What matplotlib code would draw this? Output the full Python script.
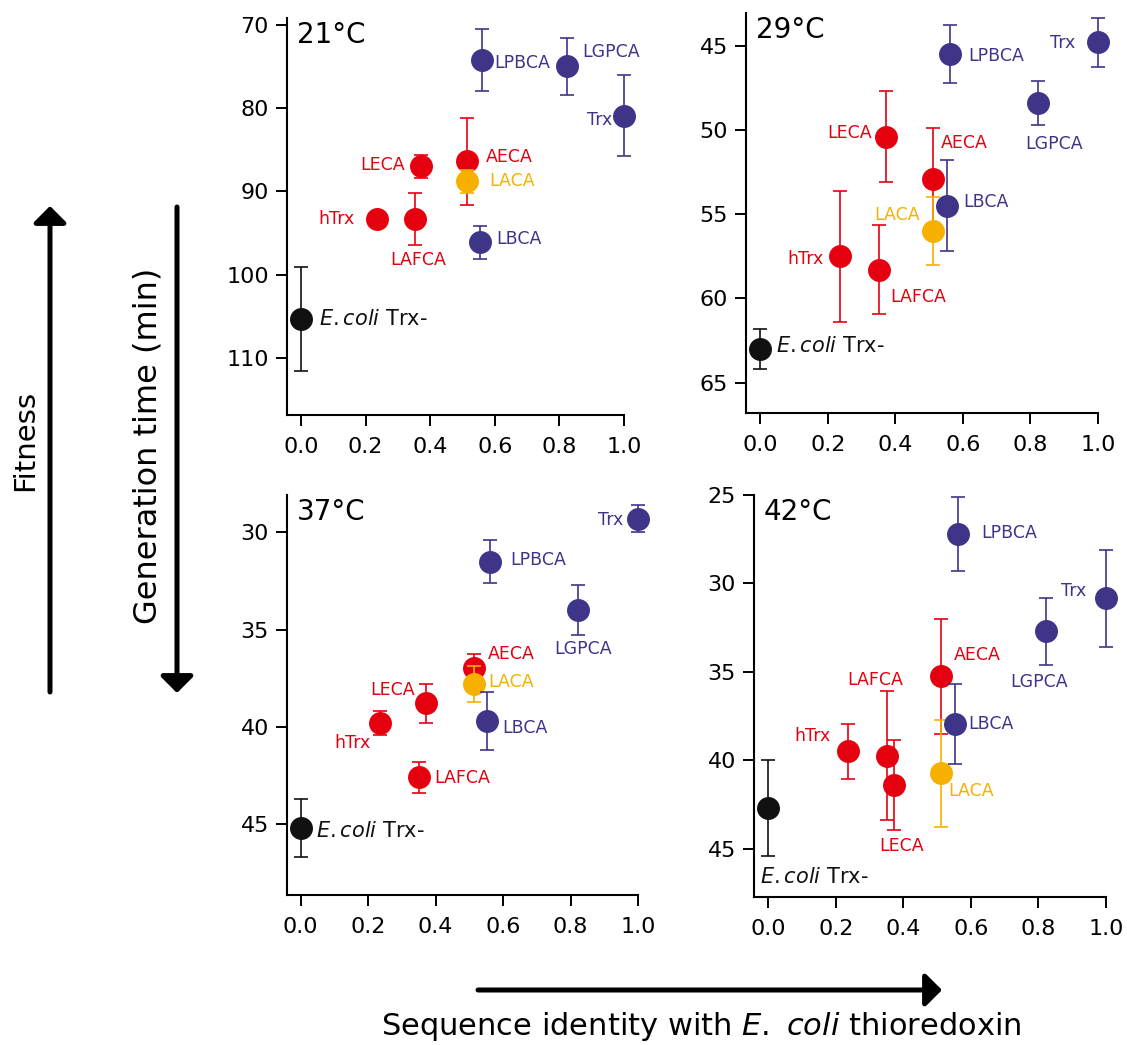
import numpy as np
import matplotlib.pyplot as plt

# thioredoxin variants and their sequence identity with E. coli Trx
variants = ['E.coli Trx-', 'hTrx', 'LAFCA', 'LECA', 'AECA', 'LACA',
            'LBCA', 'LPBCA', 'LGPCA', 'Trx']
identity = [0.0, 0.235, 0.352, 0.372, 0.513, 0.513, 0.553, 0.562, 0.823, 1.0]
groups = ['ecoli', 'red', 'red', 'red', 'red', 'orange',
          'purple', 'purple', 'purple', 'purple']

temps = ['21°C', '29°C', '37°C', '42°C']

# generation time (min) and error
gt_21 = [105.3, 93.3, 93.3, 87.0, 86.4, 88.8, 96.1, 74.2, 75.0, 80.9]
err_21 = [6.2, 0.4, 3.1, 1.4, 5.2, 1.4, 1.95, 3.7, 3.45, 4.85]
gt_29 = [63.0, 57.5, 58.3, 50.4, 52.9, 56.0, 54.5, 45.5, 48.4, 44.8]
err_29 = [1.2, 3.9, 2.65, 2.7, 3.0, 2.0, 2.7, 1.7, 1.3, 1.45]
gt_37 = [45.2, 39.8, 42.6, 38.8, 37.0, 37.8, 39.7, 31.5, 34.0, 29.3]
err_37 = [1.5, 0.6, 0.8, 1.0, 0.75, 0.95, 1.5, 1.1, 1.3, 0.7]
gt_42 = [42.7, 39.5, 39.75, 41.4, 35.25, 40.75, 37.96, 27.2, 32.7, 30.85]
err_42 = [2.7, 1.55, 3.65, 2.55, 3.25, 3.05, 2.25, 2.1, 1.9, 2.75]

x_ticks = [0.0, 0.2, 0.4, 0.6, 0.8, 1.0]
y_ticks = [[70, 80, 90, 100, 110], [45, 50, 55, 60, 65],
           [30, 35, 40, 45], [25, 30, 35, 40, 45]]

colors = {'ecoli': '#111111', 'red': '#E5000F', 'orange': '#F6B100',
          'purple': '#3E3488'}
zorders = {'ecoli': 5, 'red': 3, 'orange': 4, 'purple': 5}

W, H = 1127, 1045
# panel boxes in pixels: left, top, right, bottom
boxes = [(287, 18, 624, 415), (746, 13, 1098, 413),
         (287, 495, 638, 895), (754, 495, 1106, 897)]
xlims = [(-0.043, 1.0), (-0.042, 1.0), (-0.04, 1.0), (-0.042, 1.0)]
ylims = [(116.8, 69.2), (66.8, 43.06), (48.65, 28.08), (47.74, 25.0)]

# label offsets (pixels) and alignment for each variant, per panel
label_pos = [
    [(18, 0, 'left'), (-22, 0, 'right'), (4, -41, 'center'), (-16, 1, 'right'),
     (19, 4, 'left'), (23, 0, 'left'), (17, 3, 'left'), (12, -3, 'left'),
     (15, 14, 'left'), (-12, -4, 'right')],
    [(16, 3, 'left'), (-16, -3, 'right'), (11, -27, 'left'), (-14, 4, 'right'),
     (7, 36, 'left'), (-14, 16, 'right'), (16, 4, 'left'), (18, -2, 'left'),
     (16, -41, 'center'), (-23, -1, 'right')],
    [(15, -3, 'left'), (-9, -20, 'right'), (15, -1, 'left'), (-11, 13, 'right'),
     (14, 14, 'left'), (15, 2, 'left'), (15, -7, 'left'), (20, 2, 'left'),
     (5, -39, 'center'), (-15, -1, 'right')],
    [(-8, -69, 'left'), (-17, 15, 'right'), (-12, 76, 'center'), (8, -61, 'center'),
     (12, 21, 'left'), (7, -18, 'left'), (13, 0, 'left'), (23, 1, 'left'),
     (-7, -51, 'center'), (-20, 7, 'right')],
]

plt.rcParams['font.family'] = ['DejaVu Sans']
plt.rcParams['mathtext.fontset'] = 'dejavusans'

fig = plt.figure(figsize=(W / 100, H / 100), dpi=100)

all_gt = [gt_21, gt_29, gt_37, gt_42]
all_err = [err_21, err_29, err_37, err_42]

for k in range(4):
    l, t, r, b = boxes[k]
    ax = fig.add_axes([l / W, 1 - b / H, (r - l) / W, (b - t) / H])
    for i, name in enumerate(variants):
        c = colors[groups[i]]
        ax.errorbar(identity[i], all_gt[k][i], yerr=all_err[k][i], fmt='o',
                    ms=15.5, color=c, ecolor=c, elinewidth=1.2, capsize=4.7,
                    capthick=1.2, zorder=zorders[groups[i]])
        dx, dy, ha = label_pos[k][i]
        if name == 'E.coli Trx-':
            txt, fs = r'$\it{E.coli}$ Trx-', 15
        else:
            txt, fs = name, 12.5
        ax.annotate(txt, (identity[i], all_gt[k][i]), xytext=(dx, dy),
                    textcoords='offset pixels', ha=ha, va='center',
                    color=c, fontsize=fs, zorder=6)
    for art in ax.lines + ax.collections:
        art.set_clip_on(False)

    ax.set_xlim(*xlims[k])
    ax.set_ylim(*ylims[k])
    ax.set_xticks(x_ticks)
    ax.set_xticklabels(['{:.1f}'.format(v) for v in x_ticks])
    ax.set_yticks(y_ticks[k])
    ax.tick_params(direction='out', length=8, width=1.4, labelsize=16)
    ax.tick_params(axis='x', pad=8)
    ax.tick_params(axis='y', pad=5)
    for s in ['top', 'right']:
        ax.spines[s].set_visible(False)
    for s in ['left', 'bottom']:
        ax.spines[s].set_linewidth(1.5)
    ax.patch.set_visible(False)
    ax.annotate(temps[k], xy=(0, 1), xycoords='axes fraction', xytext=(10, -3),
                textcoords='offset pixels', ha='left', va='top', fontsize=20)

# arrows and outer labels in pixel space
ov = fig.add_axes([0, 0, 1, 1])
ov.set_xlim(0, W)
ov.set_ylim(H, 0)
ov.axis('off')
arr = dict(arrowstyle='-|>,head_length=0.5,head_width=0.5', lw=3.6,
           color='black', mutation_scale=20, shrinkA=0, shrinkB=0)
ov.annotate('', xy=(50, 206), xytext=(50, 692), arrowprops=arr)
ov.annotate('', xy=(177, 693), xytext=(177, 207), arrowprops=arr)
ov.annotate('', xy=(942, 990), xytext=(478, 990), arrowprops=arr)

ov.text(25, 440, 'Fitness', rotation=90, ha='center', va='center', fontsize=21)
ov.text(148, 446, 'Generation time (min)', rotation=90, ha='center',
        va='center', fontsize=23)
ov.text(701, 1035, r'Sequence identity with $\it{E.}$ $\it{coli}$ thioredoxin',
        ha='center', va='baseline', fontsize=22)

fig.savefig('out.png', dpi=100)
